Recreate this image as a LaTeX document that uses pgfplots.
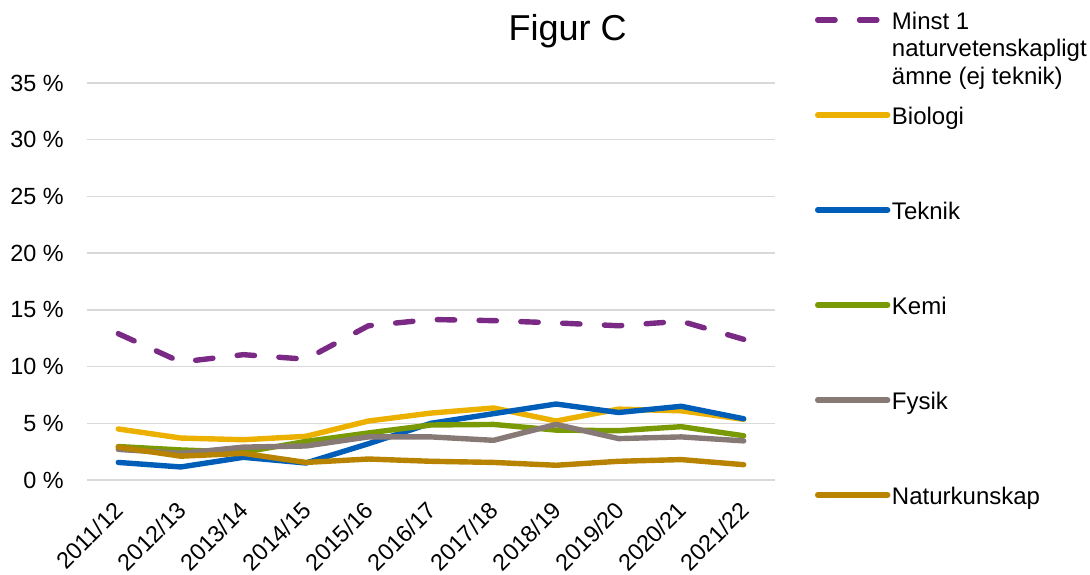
\documentclass[border=0pt]{standalone}
\usepackage{pgfplots}
\pgfplotsset{compat=1.18}
\usepackage{fontspec}
\setmainfont{Liberation Sans}
\definecolor{cpurple}{HTML}{7A2A84}
\definecolor{cyellow}{HTML}{EBB000}
\definecolor{cblue}{HTML}{005EB8}
\definecolor{cgreen}{HTML}{7A9A05}
\definecolor{cgray}{HTML}{877A76}
\definecolor{cbrown}{HTML}{B88300}
\definecolor{cgrid}{HTML}{D9D9D9}
\begin{document}
\begin{tikzpicture}
\useasboundingbox (-43.5pt,-47pt) rectangle (501.5pt,240pt);
\begin{axis}[
  at={(0pt,0pt)}, anchor=south west,
  scale only axis, width=344pt, height=198.5pt,
  xmin=-0.5, xmax=10.5, ymin=0, ymax=35,
  axis line style={draw=none},
  tick style={draw=none},
  ymajorgrids, grid style={draw=cgrid, line width=0.75pt},
  xtick={0,1,...,10},
  xticklabels={2011/12,2012/13,2013/14,2014/15,2015/16,2016/17,2017/18,2018/19,2019/20,2020/21,2021/22},
  ytick={0,5,...,35},
  yticklabels={0 \%,5 \%,10 \%,15 \%,20 \%,25 \%,30 \%,35 \%},
  ticklabel style={font=\fontsize{11.7}{13}\selectfont},
  yticklabel style={anchor=east, inner sep=0pt, xshift=-11.5pt},
  xticklabel style={yshift=-13pt, xshift=0.5pt, rotate=45, anchor=east, inner sep=0pt},
  title={Figur C},
  title style={at={(rel axis cs:0.6985,1.1083)}, anchor=base, yshift=-6pt, font=\fontsize{18}{20}\selectfont, inner sep=0pt},
  legend cell align=left,
  legend image code/.code={\draw[#1] (0pt,0.5pt) -- (35pt,0.5pt);},
  legend style={at={(rel axis cs:1.0581,1.1775)}, anchor=north west, draw=none, fill=none,
    inner sep=0pt, outer sep=0pt,
    font=\fontsize{12}{13.7}\selectfont, row sep=39pt, column sep=0.8pt,
    nodes={inner sep=0pt, text height=8.5pt, text depth=0pt}},
  every axis plot/.append style={line width=2.7pt, line cap=round, line join=round, mark=none},
]
\addplot[cpurple, dash pattern=on 8.7pt off 12.2pt] coordinates {(0,12.9)(1,10.4)(2,11.05)(3,10.65)(4,13.6)(5,14.15)(6,14.05)(7,13.85)(8,13.6)(9,14.0)(10,12.4)};
\addlegendentry{\parbox[t]{100pt}{Minst 1\\naturvetenskapligt\\ämne (ej teknik)}}
\addplot[cyellow] coordinates {(0,4.5)(1,3.7)(2,3.55)(3,3.85)(4,5.2)(5,5.9)(6,6.35)(7,5.2)(8,6.25)(9,6.1)(10,5.35)};
\addlegendentry{Biologi}
\addplot[cblue] coordinates {(0,1.55)(1,1.15)(2,2.0)(3,1.5)(4,3.2)(5,5.0)(6,5.85)(7,6.7)(8,5.95)(9,6.5)(10,5.4)};
\addlegendentry{Teknik}
\addplot[cgreen] coordinates {(0,2.95)(1,2.65)(2,2.45)(3,3.4)(4,4.15)(5,4.85)(6,4.9)(7,4.4)(8,4.35)(9,4.7)(10,3.9)};
\addlegendentry{Kemi}
\addplot[cgray] coordinates {(0,2.7)(1,2.35)(2,2.9)(3,3.0)(4,3.8)(5,3.8)(6,3.5)(7,4.9)(8,3.65)(9,3.8)(10,3.45)};
\addlegendentry{Fysik}
\addplot[cbrown] coordinates {(0,2.9)(1,2.1)(2,2.35)(3,1.55)(4,1.85)(5,1.65)(6,1.55)(7,1.3)(8,1.65)(9,1.8)(10,1.35)};
\addlegendentry{Naturkunskap}
\end{axis}
\end{tikzpicture}
\end{document}
